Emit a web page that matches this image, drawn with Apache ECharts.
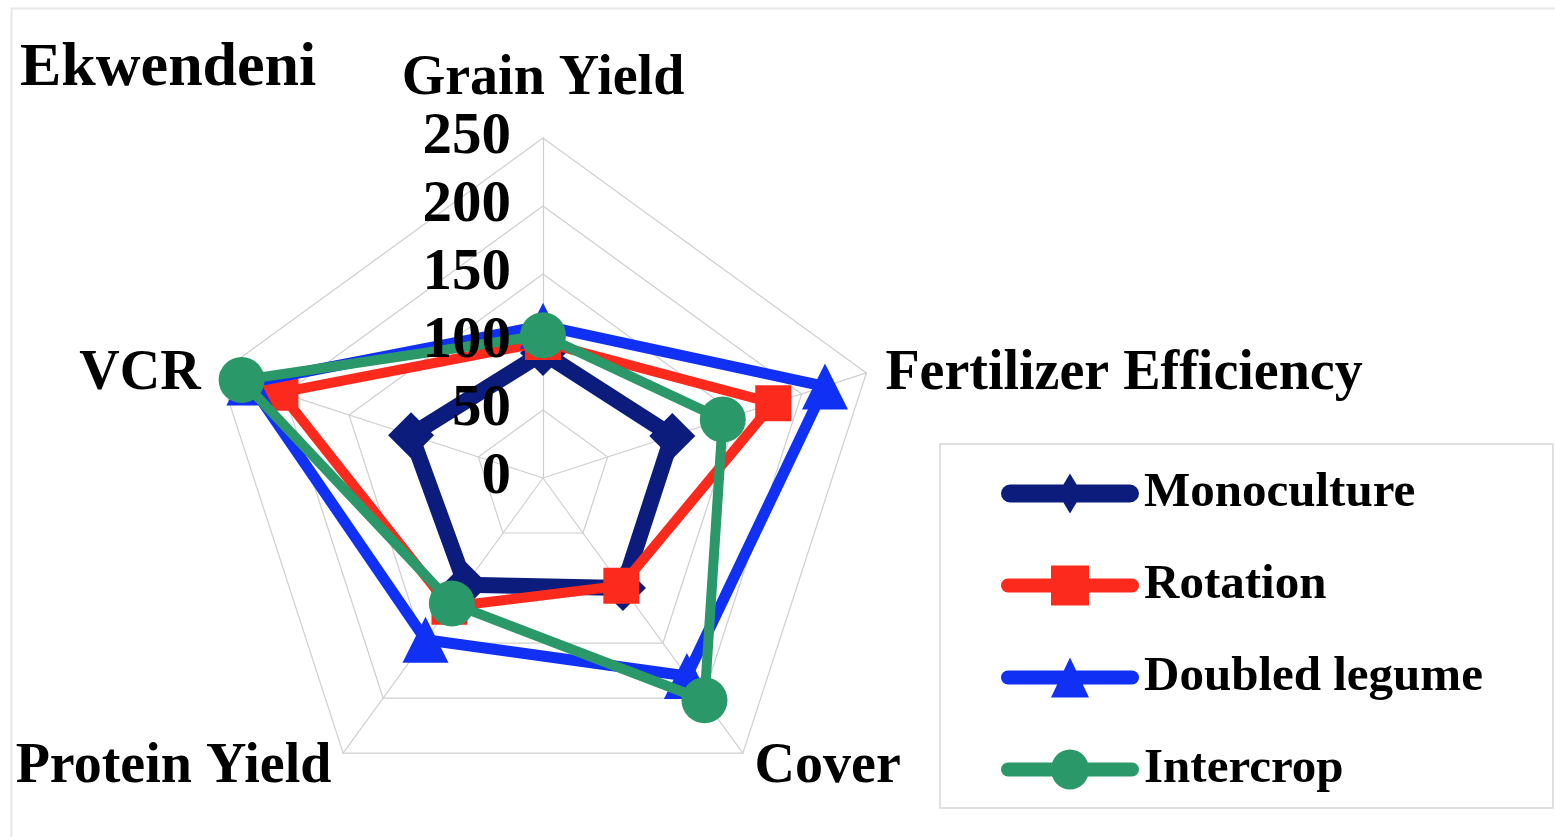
<!DOCTYPE html>
<html>
<head>
<meta charset="utf-8">
<title>Ekwendeni</title>
<script src="https://cdn.jsdelivr.net/npm/echarts@6/dist/echarts.min.js"></script>
<style>
  html, body { margin: 0; padding: 0; background: #ffffff; }
  #chart { width: 1555px; height: 837px; }
</style>
</head>
<body>
<div id="chart"></div>
<script>
// Radar axes, listed counter-clockwise from the top (ECharts' radar order):
// Grain Yield (top), VCR (upper left), Protein Yield (lower left),
// Cover (lower right), Fertilizer Efficiency (upper right).
const indicators = ['Grain Yield', 'VCR', 'Protein Yield', 'Cover', 'Fertilizer Efficiency'];
const axisMax = 250;
const tickStep = 50;
const tickLabels = ['0', '50', '100', '150', '200', '250'];

// Values per system, in the same axis order as `indicators`
const monoculture   = [92, 102, 97, 100, 100];
const rotation      = [100, 203, 117, 98, 178];
const doubledLegume = [112, 227, 147, 180, 218];
const intercrop     = [105, 233, 114, 202, 139];

const seriesNames = ['Monoculture', 'Rotation', 'Doubled legume', 'Intercrop'];
const seriesValues = [monoculture, rotation, doubledLegume, intercrop];
const seriesColors = ['#0c1c7c', '#fb2a1c', '#1030f4', '#2a9868'];
const seriesSymbols = ['diamond', 'rect', 'triangle', 'circle'];
const symbolSizes = [[46, 46], 36, 46, 46];
const lineWidths = [16, 10, 11, 10];

// Legend keys: a round-ended bar with the series marker in its middle (138 x 40 box)
const legendIcons = [
  'path://M9,11 L129,11 A9,9 0 0 1 129,29 L9,29 A9,9 0 0 1 9,11 Z M69,0 L81,20 L69,40 L57,20 Z',
  'path://M7,13 L131,13 A7,7 0 0 1 131,27 L7,27 A7,7 0 0 1 7,13 Z M50,0 L88,0 L88,40 L50,40 Z',
  'path://M7,13 L131,13 A7,7 0 0 1 131,27 L7,27 A7,7 0 0 1 7,13 Z M69,0 L88,40 L50,40 Z',
  'path://M7,13 L131,13 A7,7 0 0 1 131,27 L7,27 A7,7 0 0 1 7,13 Z M69,0 A19,20 0 1 1 69,40 A19,20 0 1 1 69,0 Z'
];

const serif = "'Liberation Serif', 'Times New Roman', serif";
const center = [543, 478];
const radius = 340;

// Axis-name text styles: the top name sits a little higher, the side names a little lower
const nameBase = { fontFamily: serif, fontWeight: 'bold', fontSize: 56, color: '#000000' };
const nameRich = {
  top: Object.assign({ padding: [0, 0, 10, 0] }, nameBase),
  side: Object.assign({ padding: [16, 0, 0, 0] }, nameBase),
  low: Object.assign({ padding: [0, 0, 4, 0] }, nameBase)
};
const namePlacement = {
  'Grain Yield': 'top',
  'VCR': 'side',
  'Fertilizer Efficiency': 'side',
  'Protein Yield': 'low',
  'Cover': 'low'
};

const chart = echarts.init(document.getElementById('chart'), null, { renderer: 'canvas' });

const option = {
  animation: false,
  backgroundColor: '#ffffff',
  title: {
    text: 'Ekwendeni',
    left: 20,
    top: 38,
    padding: 0,
    textStyle: { fontFamily: serif, fontWeight: 'bold', fontSize: 62, color: '#000000' }
  },
  graphic: [{
    type: 'rect',
    left: 9, top: 6,
    shape: { width: 1600, height: 900 },
    style: { fill: 'none', stroke: '#e8e8e8', lineWidth: 2 },
    silent: true, z: -10
  }],
  legend: {
    orient: 'vertical',
    left: 940,
    top: 444,
    padding: [25, 70, 14, 61],
    itemGap: 43,
    itemWidth: 138,
    itemHeight: 40,
    borderColor: '#d6d6d6',
    borderWidth: 1.5,
    selectedMode: false,
    itemStyle: { borderWidth: 0 },
    textStyle: { fontFamily: serif, fontWeight: 'bold', fontSize: 49, color: '#000000' },
    data: seriesNames.map((name, i) => ({ name: name, icon: legendIcons[i] }))
  },
  radar: {
    center: center,
    radius: radius,
    startAngle: 90,
    shape: 'polygon',
    splitNumber: axisMax / tickStep,
    nameGap: 20,
    axisName: Object.assign({
      formatter: (name) => '{' + namePlacement[name] + '|' + name + '}',
      rich: nameRich
    }, nameBase),
    indicator: indicators.map(name => ({ name: name, min: 0, max: axisMax })),
    splitLine: { lineStyle: { color: '#cfcfcf', width: 1.2 } },
    splitArea: { show: false },
    axisLine: { lineStyle: { color: '#cfcfcf', width: 1.2 } },
    axisTick: { show: false },
    axisLabel: { show: false }
  },
  // Polar frame sharing the radar's centre and radius, used only for the 0-250 scale on the vertical axis
  polar: { center: center, radius: radius },
  angleAxis: { show: false, startAngle: 90, min: 0, max: 360 },
  radiusAxis: {
    min: 0,
    max: axisMax,
    interval: tickStep,
    z: 20,
    axisLine: { show: false },
    axisTick: { show: false },
    splitLine: { show: false },
    axisLabel: {
      show: true,
      margin: 32,
      fontFamily: serif,
      fontWeight: 'bold',
      fontSize: 59,
      color: '#000000',
      formatter: (v) => tickLabels[Math.round(v / tickStep)]
    }
  },
  series: seriesNames.map((name, i) => ({
    type: 'radar',
    name: name,
    z: 2 + i,
    symbol: seriesSymbols[i],
    symbolSize: symbolSizes[i],
    symbolKeepAspect: false,
    itemStyle: { color: seriesColors[i], opacity: 1 },
    lineStyle: { color: seriesColors[i], width: lineWidths[i], join: 'round', cap: 'round' },
    areaStyle: null,
    emphasis: { disabled: true },
    data: [{ name: name, value: seriesValues[i] }]
  }))
};

chart.setOption(option);
</script>
</body>
</html>
